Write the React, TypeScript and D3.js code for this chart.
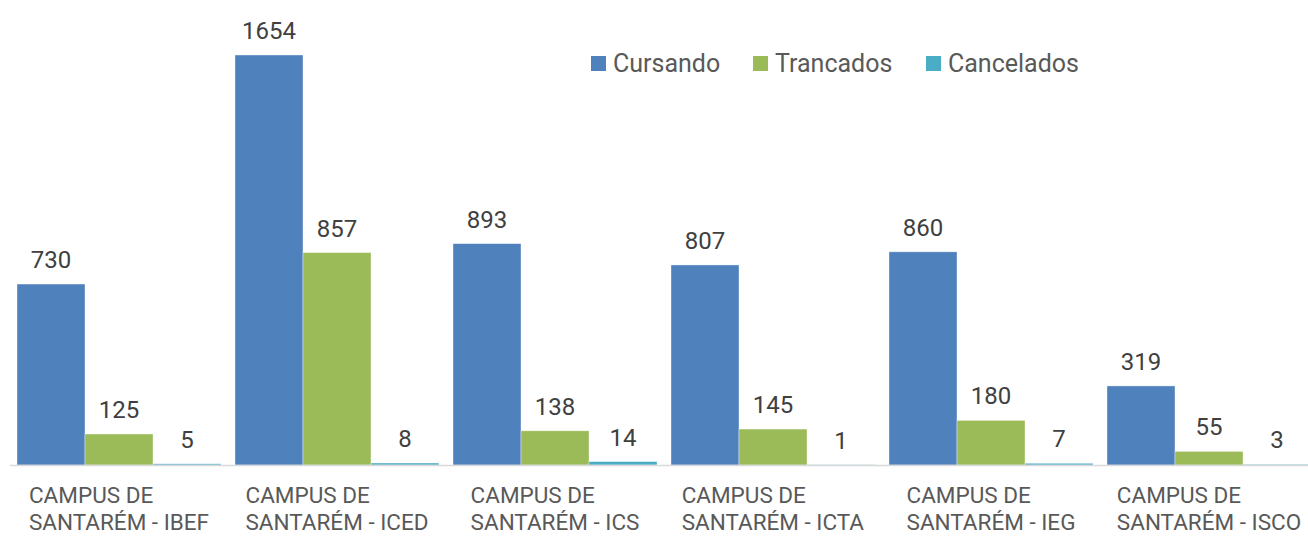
import React from "react";
import * as d3 from "d3";

const categories = [
  ["CAMPUS DE", "SANTARÉM - IBEF"],
  ["CAMPUS DE", "SANTARÉM - ICED"],
  ["CAMPUS DE", "SANTARÉM - ICS"],
  ["CAMPUS DE", "SANTARÉM - ICTA"],
  ["CAMPUS DE", "SANTARÉM - IEG"],
  ["CAMPUS DE", "SANTARÉM - ISCO"],
];
const seriesNames = ["Cursando", "Trancados", "Cancelados"];
const seriesColors = ["#4f81bd", "#9bbb59", "#4bacc6"];
const cursando = [730, 1654, 893, 807, 860, 319];
const trancados = [125, 857, 138, 145, 180, 55];
const cancelados = [5, 8, 14, 1, 7, 3];
const seriesValues = [cursando, trancados, cancelados];

const W = 1308;
const H = 537;
const FONT = "Roboto, 'Open Sans', sans-serif";

export default function App() {
  const keys = categories.map((_, i) => String(i));
  const x0 = d3.scaleBand<string>().domain(keys).range([10, 1318]).padding(0);
  const x1 = d3
    .scaleBand<string>()
    .domain(seriesNames)
    .range([7, x0.bandwidth() - 7])
    .padding(0);
  const y = d3.scaleLinear().domain([0, 1654]).range([465, 55]);
  const legendX = [591, 753, 926];

  return (
    <svg
      width={W}
      height={H}
      style={{ position: "absolute", left: 0, top: 0, background: "#fff" }}
      fontFamily={FONT}
    >
      {keys.map((k, ci) => (
        <g key={k} transform={`translate(${x0(k)},0)`}>
          {seriesNames.map((s, si) => {
            const v = seriesValues[si][ci];
            const bx = x1(s)!;
            const bw = x1.bandwidth();
            const top = y(v);
            return (
              <g key={s}>
                <rect
                  x={bx}
                  y={top}
                  width={bw}
                  height={y(0) - top}
                  fill={seriesColors[si]}
                  stroke="#ffffff"
                  strokeOpacity={0.5}
                  strokeWidth={0.75}
                />
                <text
                  x={bx + bw / 2}
                  y={top - 16}
                  textAnchor="middle"
                  fontSize={24}
                  fill="#404040"
                >
                  {v}
                </text>
              </g>
            );
          })}
        </g>
      ))}
      <line x1={10} x2={1308} y1={465.5} y2={465.5} stroke="#d9d9d9" strokeWidth={1.5} />
      {keys.map((k, ci) => {
        const cx = x0(k)! + x0.bandwidth() / 2;
        return <CatLabel key={k} cx={cx} lines={categories[ci]} />;
      })}
      {seriesNames.map((s, si) => (
        <g key={s} transform={`translate(${legendX[si]},0)`}>
          <rect x={0} y={56} width={15} height={15} fill={seriesColors[si]} />
          <text x={22} y={72} fontSize={25} fill="#595959">
            {s}
          </text>
        </g>
      ))}
    </svg>
  );
}

function CatLabel({ cx, lines }: { cx: number; lines: string[] }) {
  const ref = React.useRef<SVGGElement>(null);
  React.useEffect(() => {
    const g = ref.current;
    if (!g) return;
    const bb = g.getBBox();
    g.setAttribute("transform", `translate(${cx - bb.width / 2},0)`);
  }, [cx]);
  return (
    <g ref={ref} transform={`translate(${cx - 94},0)`}>
      {lines.map((l, i) => (
        <text key={i} x={0} y={503 + i * 27} fontSize={22.5} fill="#595959">
          {l}
        </text>
      ))}
    </g>
  );
}
